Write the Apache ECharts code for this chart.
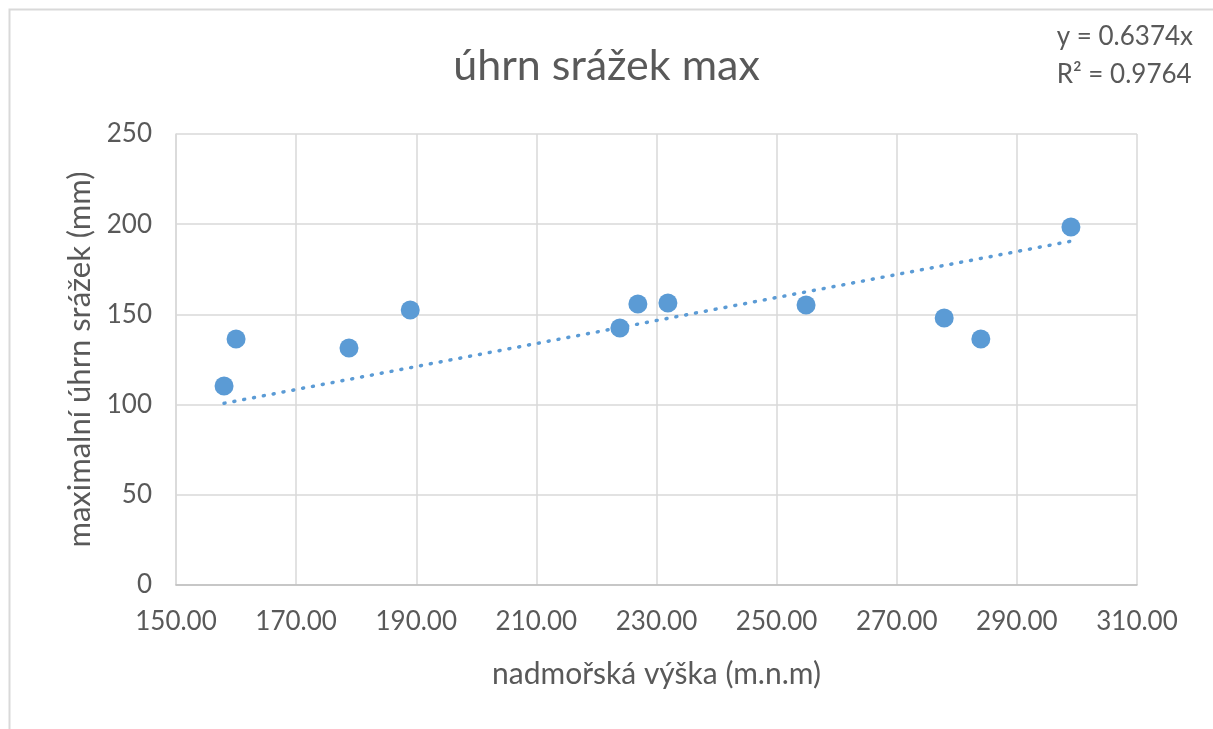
<!DOCTYPE html>
<html><head><meta charset="utf-8">
<script src="https://cdn.jsdelivr.net/npm/echarts@6/dist/echarts.min.js"></script>
<style>html,body{margin:0;padding:0;background:#fff;}#c{width:1213px;height:729px;}</style>
</head><body><div id="c"></div>
<script>
const xValues = [158.0, 160.0, 178.8, 189.0, 223.9, 226.9, 231.9, 254.9, 277.9, 284.0, 299.0];
const yValues = [110.3, 136.4, 131.4, 152.4, 142.5, 155.8, 156.3, 155.2, 148.0, 136.4, 198.4];
const trendSlope = 0.6374;
const trendX = [158.0, 299.0];
const titleText = 'úhrn srážek max';
const eqText = 'y = 0.6374x';
const r2Text = 'R² = 0.9764';
const xName = 'nadmořská výška (m.n.m)';
const yName = 'maximalní úhrn srážek (mm)';

const FONT = 'Lato, "Open Sans", sans-serif';
const TXT = '#595959';
const BLUE = '#5B9BD5';

const chart = echarts.init(document.getElementById('c'));
chart.setOption({
  animation: false,
  backgroundColor: '#fff',
  textStyle: {fontFamily: FONT},
  graphic: [
    {type: 'rect', shape: {x: 9.5, y: 9.5, width: 1300, height: 800},
     style: {fill: 'none', stroke: '#d9d9d9', lineWidth: 2}, silent: true},
    {type: 'text', right: 20, top: 18, style: {text: eqText + '\n' + r2Text, fill: TXT,
      font: '26px ' + FONT, lineHeight: 38, align: 'left'}}
  ],
  title: {text: titleText, left: 'center', top: 40,
    textStyle: {color: TXT, fontSize: 43, fontWeight: 'normal', fontFamily: FONT}},
  grid: {left: 176, right: 76, top: 134, bottom: 144, containLabel: false},
  xAxis: {
    type: 'value', min: 150, max: 310, interval: 20,
    name: xName, nameLocation: 'middle', nameGap: 74,
    nameTextStyle: {color: TXT, fontSize: 30, fontFamily: FONT},
    axisLabel: {color: TXT, fontSize: 26, margin: 24, formatter: v => v.toFixed(2), fontFamily: FONT},
    axisLine: {show: true, lineStyle: {color: '#bfbfbf', width: 1.5}},
    axisTick: {show: false},
    splitLine: {show: true, lineStyle: {color: '#d9d9d9', width: 1.5}}
  },
  yAxis: {
    type: 'value', min: 0, max: 250, interval: 50,
    name: yName, nameLocation: 'middle', nameGap: 70,
    nameTextStyle: {color: TXT, fontSize: 31, fontFamily: FONT},
    axisLabel: {color: TXT, fontSize: 26, margin: 24, fontFamily: FONT},
    axisLine: {show: true, lineStyle: {color: '#d9d9d9', width: 1.5}},
    axisTick: {show: false},
    splitLine: {show: true, lineStyle: {color: '#d9d9d9', width: 1.5}}
  },
  series: [
    {type: 'line', data: trendX.map(x => [x, trendSlope * x]), symbol: 'none',
     lineStyle: {color: BLUE, width: 3.5, type: [1, 9], cap: 'round'}, z: 2},
    {type: 'scatter', data: xValues.map((x, i) => [x, yValues[i]]), symbolSize: 19,
     itemStyle: {color: BLUE, opacity: 1}, z: 3}
  ]
});
</script></body></html>
